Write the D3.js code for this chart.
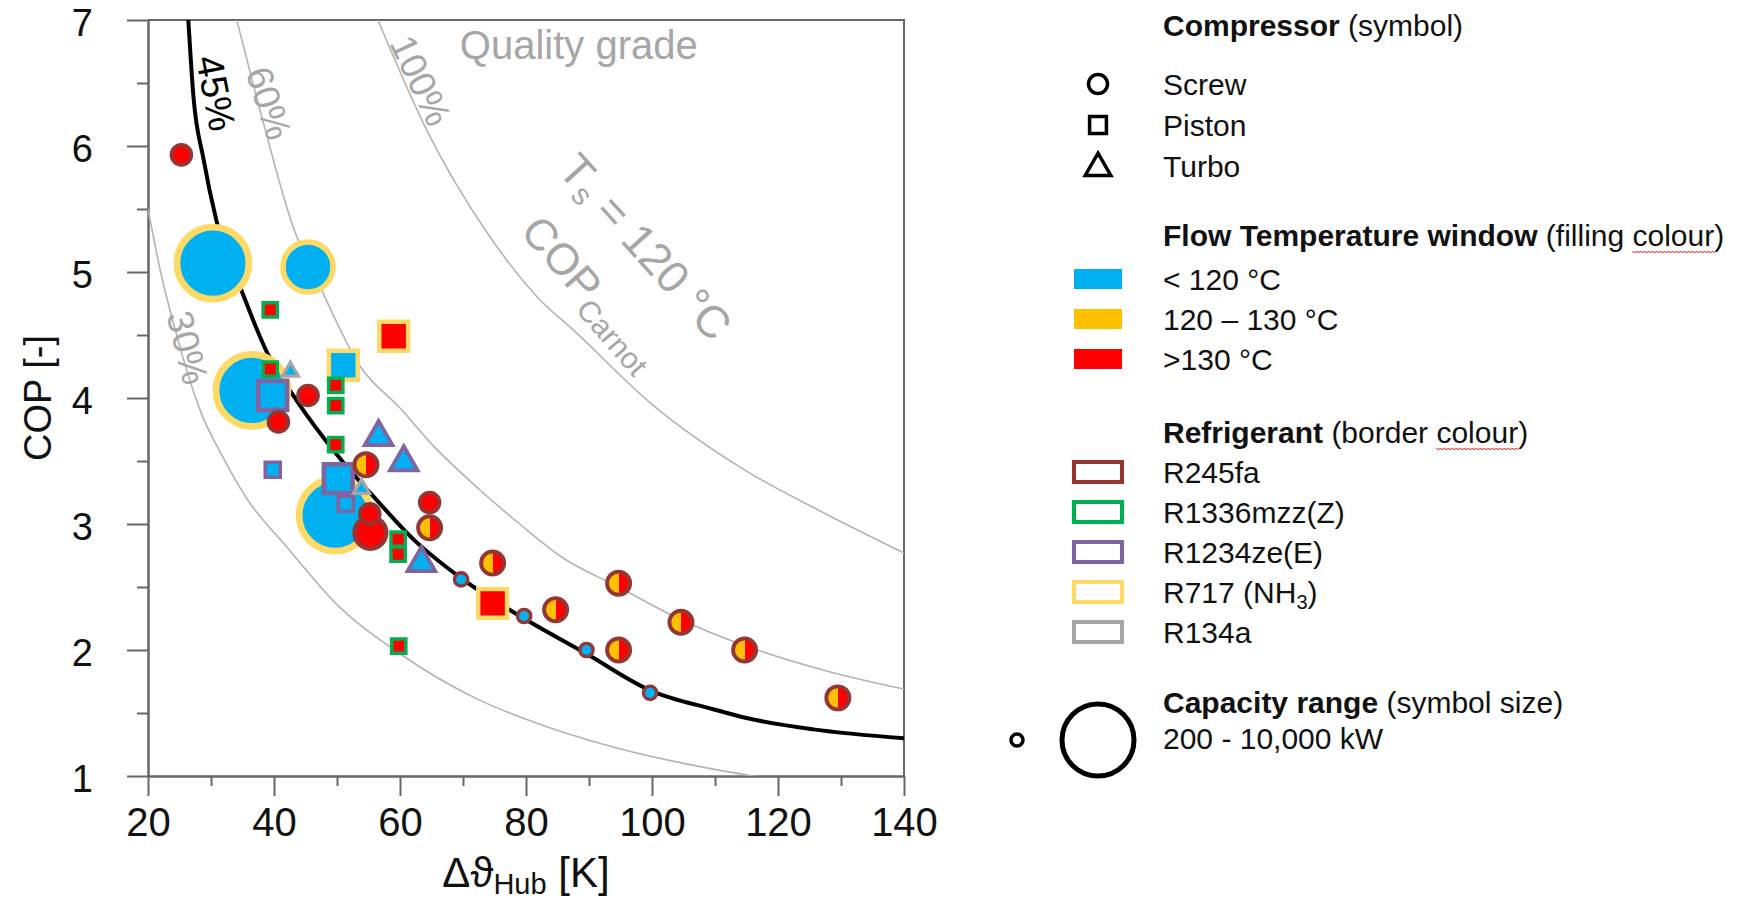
<!DOCTYPE html>
<html>
<head>
<meta charset="utf-8">
<script src="https://cdn.jsdelivr.net/npm/d3@7"></script>
<style>
  body { margin: 0; background: #fff; }
  svg { display: block; font-family: "Liberation Sans", Arial, sans-serif; }
</style>
</head>
<body>
<div id="chart"></div>
<script>

/* heat pump units */
var dT = [25.3, 30.3, 45.4, 36.5, 45.4, 40.7, 49.7, 55.2, 55.3, 64.7, 54.6, 64.7, 69.7, 74.7, 79.7, 84.7,
          94.7, 89.6, 94.7, 104.6, 114.7, 99.7, 129.5,
          39.4, 59.0, 51.0, 39.4, 39.8, 49.8, 49.8, 49.8, 39.8, 50.2, 51.4, 59.7, 59.7, 74.7, 59.8,
          42.6, 56.6, 60.6, 53.9, 63.4];
var cop = [5.93, 5.07, 5.04, 4.06, 4.02, 3.81, 3.07, 3.08, 2.93, 3.17, 3.47, 2.97, 2.56, 2.69, 2.27, 2.32,
           2.53, 2.00, 2.00, 2.22, 2.00, 1.66, 1.62,
           4.70, 4.49, 4.26, 4.23, 4.02, 4.10, 3.94, 3.63, 3.43, 3.36, 3.16, 2.88, 2.76, 2.37, 2.03,
           4.21, 3.69, 3.49, 3.28, 2.69];
var compressor = ['screw', 'screw', 'screw', 'screw', 'screw', 'screw', 'screw', 'screw', 'screw', 'screw',
                  'screw', 'screw', 'screw', 'screw', 'screw', 'screw', 'screw', 'screw', 'screw', 'screw',
                  'screw', 'screw', 'screw',
                  'piston', 'piston', 'piston', 'piston', 'piston', 'piston', 'piston', 'piston', 'piston',
                  'piston', 'piston', 'piston', 'piston', 'piston', 'piston',
                  'turbo', 'turbo', 'turbo', 'turbo', 'turbo'];
// low = < 120 °C, mid = 120-130 °C, high = > 130 °C, mixed = both upper windows
var flowWindow = ['high', 'low', 'low', 'low', 'high', 'high', 'low', 'high', 'high', 'high',
                  'mixed', 'mixed', 'low', 'mixed', 'low', 'mixed', 'mixed', 'low', 'mixed', 'mixed',
                  'mixed', 'low', 'mixed',
                  'high', 'high', 'low', 'high', 'low', 'high', 'high', 'high', 'low', 'low', 'low',
                  'high', 'high', 'high', 'high',
                  'low', 'low', 'low', 'low', 'low'];
var refrigerant = ['R245fa', 'R717', 'R717', 'R717', 'R245fa', 'R245fa', 'R717', 'R245fa', 'R245fa', 'R245fa',
                   'R245fa', 'R245fa', 'R245fa', 'R245fa', 'R245fa', 'R245fa', 'R245fa', 'R245fa', 'R245fa', 'R245fa',
                   'R245fa', 'R245fa', 'R245fa',
                   'R1336', 'R717', 'R717', 'R1336', 'R1234', 'R1336', 'R1336', 'R1336', 'R1234', 'R1234', 'R1234',
                   'R1336', 'R1336', 'R717', 'R1336',
                   'R134a', 'R1234', 'R1234', 'R134a', 'R1234'];
var capacityKW = [650, 10000, 4700, 10000, 650, 650, 10000, 650, 1800, 650,
                  900, 900, 260, 900, 260, 900, 900, 260, 900, 900,
                  900, 260, 900,
                  400, 1900, 1900, 400, 1900, 400, 400, 400, 450, 1900, 450, 400, 400, 1900, 400,
                  200, 700, 700, 200, 700];

/* quality grade curves, [dT, COP] */
var grade30 = [[20, 5.5], [22, 5.0], [24, 4.6], [28.3, 3.9], [32, 3.52], [35.7, 3.2], [42, 2.82], [50, 2.36],
               [60, 1.97], [72.7, 1.6], [80, 1.45], [93.8, 1.23], [105, 1.1], [116, 1.0], [125, 0.93]];
var grade45 = [[26.4, 7.0], [27.2, 6.4], [28.8, 5.9], [30.9, 5.4], [35.1, 4.82], [39, 4.35], [43.6, 3.98],
               [50, 3.55], [56.3, 3.19], [62.1, 2.88], [69.7, 2.57], [79.7, 2.25], [89.6, 1.97], [99.7, 1.68],
               [109.7, 1.53], [115, 1.46], [125.6, 1.37], [140, 1.30]];
var grade60 = [[34.1, 7.0], [38.5, 6.15], [43.1, 5.35], [46.8, 4.94], [53.7, 4.25], [60, 3.92], [65.3, 3.62],
               [72.7, 3.27], [79, 3.0], [85.9, 2.73], [94.7, 2.5], [104.6, 2.24], [115, 2.03], [128, 1.83],
               [140, 1.69]];
var grade100 = [[56.5, 7.0], [64.2, 6.13], [74, 5.3], [82.2, 4.78], [87.5, 4.54], [100, 3.95], [115, 3.42],
                [128, 3.07], [140, 2.77]];

var xTicks = [20, 40, 60, 80, 100, 120, 140];
var xMinor = [30, 50, 70, 90, 110, 130];
var yTicks = [1, 2, 3, 4, 5, 6, 7];
var yMinor = [1.5, 2.5, 3.5, 4.5, 5.5, 6.5];

var compressorNames = ['Screw', 'Piston', 'Turbo'];
var flowLabels = ['< 120 °C', '120 – 130 °C', '>130 °C'];
var refrigerantKeys = ['R245fa', 'R1336', 'R1234', 'R717', 'R134a'];
var refrigerantLabels = ['R245fa', 'R1336mzz(Z)', 'R1234ze(E)', 'R717 (NH', 'R134a'];
var capacityRange = [200, 10000];

var fillColours = { low: '#00b0f0', mid: '#ffc000', high: '#ff0000' };
var borderColours = { R245fa: '#943634', R1336: '#00b050', R1234: '#8064a2', R717: '#ffd966', R134a: '#a6a6a6' };
var grey = '#a6a6a6';

/* layout */
var width = 1746, height = 902;
var margin = { top: 20, left: 148 }, plotW = 756, plotH = 756;

var svg = d3.select('#chart').append('svg')
    .attr('width', width)
    .attr('height', height);

var defs = svg.append('defs');
var half = defs.append('linearGradient').attr('id', 'halfFill');
half.append('stop').attr('offset', 0).attr('stop-color', fillColours.mid);
half.append('stop').attr('offset', 0.5).attr('stop-color', fillColours.mid);
half.append('stop').attr('offset', 0.5).attr('stop-color', fillColours.high);
half.append('stop').attr('offset', 1).attr('stop-color', fillColours.high);

defs.append('clipPath').attr('id', 'plotClip')
    .append('rect').attr('width', plotW).attr('height', plotH);

var x = d3.scaleLinear().domain([20, 140]).range([0, plotW]);
var y = d3.scaleLinear().domain([1, 7]).range([plotH, 0]);
var r = d3.scaleSqrt().domain(capacityRange).range([6, 36]);

var plot = svg.append('g')
    .attr('transform', 'translate(' + margin.left + ',' + margin.top + ')');

/* axes */
var styleAxis = function(g) {
    g.attr('font-family', '"Liberation Sans", Arial, sans-serif');
    g.selectAll('.domain').attr('stroke', '#666').attr('stroke-width', 2);
    g.selectAll('.tick line').attr('stroke', '#666').attr('stroke-width', 2);
    g.selectAll('.tick text').attr('fill', '#111');
};

plot.append('g')
    .attr('transform', 'translate(0,' + plotH + ')')
    .call(d3.axisBottom(x).tickValues(xMinor).tickSize(10).tickSizeOuter(0).tickFormat(''))
    .call(styleAxis);
plot.append('g')
    .attr('transform', 'translate(0,' + plotH + ')')
    .call(d3.axisBottom(x).tickValues(xTicks).tickSize(20).tickSizeOuter(0).tickPadding(12).tickFormat(d3.format('d')))
    .call(styleAxis)
    .attr('font-size', 40);

plot.append('g')
    .call(d3.axisLeft(y).tickValues(yMinor).tickSize(11).tickSizeOuter(0).tickFormat(''))
    .call(styleAxis);
plot.append('g')
    .call(d3.axisLeft(y).tickValues(yTicks).tickSize(21).tickSizeOuter(0).tickPadding(34).tickFormat(d3.format('d')))
    .call(styleAxis)
    .attr('font-size', 38)
    .selectAll('.tick text').attr('dy', '0.4em');

/* frame top and right */
plot.append('path')
    .attr('d', 'M0,' + y(7) + 'H' + x(140) + 'V' + y(1))
    .attr('fill', 'none')
    .attr('stroke', '#666')
    .attr('stroke-width', 2);

/* axis titles */
var xTitle = plot.append('text')
    .attr('x', plotW / 2)
    .attr('y', plotH + 111)
    .attr('text-anchor', 'middle')
    .attr('font-size', 42)
    .attr('fill', '#111');
xTitle.append('tspan').text('Δϑ');
xTitle.append('tspan').attr('font-size', 29).attr('dy', 7).text('Hub');
xTitle.append('tspan').attr('dy', -7).text(' [K]');

plot.append('text')
    .attr('transform', 'translate(-110,' + (plotH / 2) + ') rotate(-90)')
    .attr('text-anchor', 'middle')
    .attr('dy', '0.35em')
    .attr('font-size', 38)
    .attr('fill', '#111')
    .text('COP [-]');

/* quality grade curves */
var line = d3.line()
    .x(function(d) { return x(d[0]); })
    .y(function(d) { return y(d[1]); })
    .curve(d3.curveMonotoneX);

var curves = plot.append('g').attr('clip-path', 'url(#plotClip)');
[grade30, grade60, grade100].forEach(function(c) {
    curves.append('path')
        .attr('d', line(c))
        .attr('fill', 'none')
        .attr('stroke', '#b3b3b3')
        .attr('stroke-width', 1.6);
});
curves.append('path')
    .attr('d', line(grade45))
    .attr('fill', 'none')
    .attr('stroke', '#000')
    .attr('stroke-width', 4);

/* curve labels, anchored in data space */
var curveLabel = function(pos, angle, txt, size, colour) {
    return plot.append('text')
        .attr('transform', 'translate(' + x(pos[0]) + ',' + y(pos[1]) + ') rotate(' + angle + ')')
        .attr('text-anchor', 'middle')
        .attr('dy', '0.35em')
        .attr('font-size', size)
        .attr('fill', colour)
        .text(txt);
};
curveLabel([30.8, 6.42], 79, '45%', 38, '#000');
curveLabel([39.2, 6.34], 72, '60%', 37, grey);
curveLabel([63.3, 6.52], 65, '100%', 37, grey);
curveLabel([26.3, 4.40], 76, '30%', 37, grey);

plot.append('text')
    .attr('x', x(69.5))
    .attr('y', y(6.69))
    .attr('font-size', 40)
    .attr('fill', grey)
    .text('Quality grade');

var ts = curveLabel([99.0, 5.2], 48, 'T', 45, grey);
ts.append('tspan').attr('font-size', 30).attr('dy', 7).text('s');
ts.append('tspan').attr('dy', -7).text(' = 120 °C');

var cc = curveLabel([90.4, 4.84], 49, 'COP', 44, grey);
cc.append('tspan').attr('font-size', 30).attr('dy', 9).text('Carnot');

/* symbols */
var symbolFor = function(type, rad) {
    var area = Math.PI * rad * rad;
    var t = type === 'piston' ? d3.symbolSquare : (type === 'turbo' ? d3.symbolTriangle : d3.symbolCircle);
    return d3.symbol().type(t).size(area)();
};

var units = dT.map(function(d, i) {
    return { dT: d, cop: cop[i], type: compressor[i], flow: flowWindow[i], ref: refrigerant[i], cap: capacityKW[i] };
});
// big ones at the back
units.sort(function(a, b) { return b.cap - a.cap; });

plot.append('g')
    .selectAll('path')
    .data(units)
    .enter().append('path')
    .attr('transform', function(d) { return 'translate(' + x(d.dT) + ',' + y(d.cop) + ')'; })
    .attr('d', function(d) { return symbolFor(d.type, r(d.cap)); })
    .attr('fill', function(d) { return d.flow === 'mixed' ? 'url(#halfFill)' : fillColours[d.flow]; })
    .attr('stroke', function(d) { return borderColours[d.ref]; })
    .attr('stroke-width', function(d) { return 2.5 + r(d.cap) * 0.12; });

/* legend */
var symX = 1098, textX = 1163, legendSize = 30;
var legend = svg.append('g').attr('font-size', legendSize).attr('fill', '#111');

var header = function(yPos, boldTxt, rest, squiggleWord) {
    var t = legend.append('text').attr('x', textX).attr('y', yPos);
    t.append('tspan').attr('font-weight', 'bold').text(boldTxt);
    if (squiggleWord) {
        var parts = rest.split(squiggleWord);
        t.append('tspan').text(parts[0]);
        var w = t.append('tspan').text(squiggleWord);
        t.append('tspan').text(parts[1]);
        var node = w.node();
        var start = node.getStartPositionOfChar(0).x;
        var len = node.getComputedTextLength();
        var d = 'M' + start + ',' + (yPos + 5);
        for (var k = 0, px = start; px < start + len; k++) {
            px += 2;
            d += 'L' + px + ',' + (yPos + 5 + (k % 2 ? 0 : 2));
        }
        legend.append('path').attr('d', d).attr('fill', 'none').attr('stroke', '#e00').attr('stroke-width', 1);
    } else {
        t.append('tspan').text(rest);
    }
};

header(36, 'Compressor', ' (symbol)');
var compTypes = ['screw', 'piston', 'turbo'];
compressorNames.forEach(function(name, i) {
    var cy = 84 + i * 41;
    legend.append('path')
        .attr('transform', 'translate(' + symX + ',' + (cy + (i === 2 ? 2 : 0)) + ')')
        .attr('d', symbolFor(compTypes[i], 9.5))
        .attr('fill', 'none')
        .attr('stroke', '#000')
        .attr('stroke-width', 3.5);
    legend.append('text').attr('x', textX).attr('y', cy).attr('dy', '0.35em').text(name);
});

header(246, 'Flow Temperature window', ' (filling colour)', 'colour');
var flowKeys = ['low', 'mid', 'high'];
flowLabels.forEach(function(lab, i) {
    var cy = 279 + i * 40;
    legend.append('rect')
        .attr('x', symX - 24).attr('y', cy - 10)
        .attr('width', 48).attr('height', 20)
        .attr('fill', fillColours[flowKeys[i]]);
    legend.append('text').attr('x', textX).attr('y', cy).attr('dy', '0.35em').text(lab);
});

header(443, 'Refrigerant', ' (border colour)', 'colour');
refrigerantKeys.forEach(function(key, i) {
    var cy = 472 + i * 40;
    legend.append('rect')
        .attr('x', symX - 24).attr('y', cy - 10)
        .attr('width', 48).attr('height', 20)
        .attr('fill', 'none')
        .attr('stroke', borderColours[key])
        .attr('stroke-width', 4);
    var t = legend.append('text').attr('x', textX).attr('y', cy).attr('dy', '0.35em').text(refrigerantLabels[i]);
    if (key === 'R717') {
        t.append('tspan').attr('font-size', 20).attr('dy', 6).text('3');
        t.append('tspan').attr('dy', -6).text(')');
    }
});

header(713, 'Capacity range', ' (symbol size)');
legend.append('text').attr('x', textX).attr('y', 749)
    .text(d3.format(',')(capacityRange[0]) + ' - ' + d3.format(',')(capacityRange[1]) + ' kW');
legend.selectAll('.cap')
    .data(capacityRange)
    .enter().append('circle')
    .attr('cx', function(d, i) { return i === 0 ? 1017 : symX; })
    .attr('cy', 740)
    .attr('r', function(d) { return r(d); })
    .attr('fill', 'none')
    .attr('stroke', '#000')
    .attr('stroke-width', function(d, i) { return i === 0 ? 3.5 : 5; });

</script>
</body>
</html>
